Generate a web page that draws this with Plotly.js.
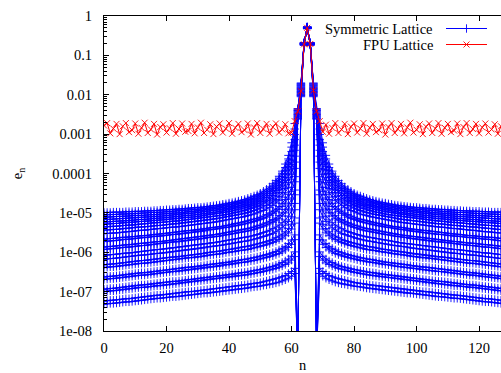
<!DOCTYPE html>
<html><head><meta charset="utf-8">
<script src="https://cdn.plot.ly/plotly-3.0.1.min.js"></script>
<style>html,body{margin:0;padding:0;overflow:hidden;background:#fff}</style>
</head><body><div id="chart" style="width:501px;height:373px"></div>
<script>
// lattice site index n
const nSites = Array.from({length:128}, (_, i) => i);

// log10(e_n) for the symmetric lattice, one array per curve
const sym01 = [-4.99,-4.99,-4.99,-4.98,-4.98,-4.98,-4.98,-4.97,-4.97,-4.97,-4.96,-4.96,-4.96,-4.95,-4.95,-4.95,-4.94,-4.94,-4.93,-4.93,-4.92,-4.92,-4.91,-4.91,-4.90,-4.90,-4.89,-4.88,-4.88,-4.87,-4.86,-4.86,-4.85,-4.84,-4.83,-4.82,-4.81,-4.80,-4.78,-4.77,-4.75,-4.74,-4.72,-4.70,-4.68,-4.66,-4.63,-4.60,-4.57,-4.54,-4.50,-4.45,-4.40,-4.34,-4.26,-4.18,-4.07,-3.94,-3.76,-3.54,-3.22,-2.73,-2.35,-1.70,-0.68,-0.28,-0.68,-1.70,-2.35,-2.73,-3.22,-3.54,-3.76,-3.94,-4.07,-4.18,-4.26,-4.34,-4.40,-4.45,-4.50,-4.54,-4.57,-4.60,-4.63,-4.66,-4.68,-4.70,-4.72,-4.74,-4.75,-4.77,-4.78,-4.80,-4.81,-4.82,-4.83,-4.84,-4.85,-4.86,-4.86,-4.87,-4.88,-4.88,-4.89,-4.90,-4.90,-4.91,-4.91,-4.92,-4.92,-4.93,-4.93,-4.94,-4.94,-4.95,-4.95,-4.95,-4.96,-4.96,-4.96,-4.97,-4.97,-4.97,-4.98,-4.98,-4.98,-4.98];
const sym02 = [-5.05,-5.05,-5.04,-5.04,-5.04,-5.03,-5.03,-5.03,-5.02,-5.02,-5.02,-5.01,-5.01,-5.00,-5.00,-4.99,-4.99,-4.99,-4.98,-4.98,-4.97,-4.97,-4.96,-4.95,-4.95,-4.94,-4.93,-4.93,-4.92,-4.91,-4.91,-4.90,-4.89,-4.88,-4.87,-4.86,-4.85,-4.84,-4.82,-4.81,-4.79,-4.78,-4.76,-4.74,-4.72,-4.70,-4.67,-4.65,-4.62,-4.58,-4.54,-4.50,-4.45,-4.39,-4.32,-4.24,-4.14,-4.01,-3.85,-3.63,-3.33,-2.87,-2.37,-1.72,-0.68,-0.28,-0.68,-1.72,-2.37,-2.87,-3.33,-3.63,-3.85,-4.01,-4.14,-4.24,-4.32,-4.39,-4.45,-4.50,-4.54,-4.58,-4.62,-4.65,-4.67,-4.70,-4.72,-4.74,-4.76,-4.78,-4.79,-4.81,-4.82,-4.84,-4.85,-4.86,-4.87,-4.88,-4.89,-4.90,-4.91,-4.91,-4.92,-4.93,-4.93,-4.94,-4.95,-4.95,-4.96,-4.97,-4.97,-4.98,-4.98,-4.99,-4.99,-4.99,-5.00,-5.00,-5.01,-5.01,-5.02,-5.02,-5.02,-5.03,-5.03,-5.03,-5.04,-5.04];
const sym03 = [-5.11,-5.11,-5.10,-5.10,-5.09,-5.09,-5.09,-5.08,-5.08,-5.07,-5.07,-5.07,-5.06,-5.06,-5.05,-5.05,-5.04,-5.04,-5.03,-5.03,-5.02,-5.01,-5.01,-5.00,-5.00,-4.99,-4.98,-4.97,-4.97,-4.96,-4.95,-4.94,-4.93,-4.92,-4.91,-4.90,-4.89,-4.88,-4.86,-4.85,-4.84,-4.82,-4.80,-4.78,-4.76,-4.74,-4.72,-4.69,-4.66,-4.63,-4.59,-4.55,-4.50,-4.45,-4.38,-4.30,-4.20,-4.08,-3.93,-3.73,-3.44,-3.01,-2.39,-1.73,-0.68,-0.28,-0.68,-1.73,-2.39,-3.01,-3.44,-3.73,-3.93,-4.08,-4.20,-4.30,-4.38,-4.45,-4.50,-4.55,-4.59,-4.63,-4.66,-4.69,-4.72,-4.74,-4.76,-4.78,-4.80,-4.82,-4.84,-4.85,-4.86,-4.88,-4.89,-4.90,-4.91,-4.92,-4.93,-4.94,-4.95,-4.96,-4.97,-4.97,-4.98,-4.99,-5.00,-5.00,-5.01,-5.01,-5.02,-5.03,-5.03,-5.04,-5.04,-5.05,-5.05,-5.06,-5.06,-5.07,-5.07,-5.07,-5.08,-5.08,-5.09,-5.09,-5.09,-5.10];
const sym04 = [-5.17,-5.17,-5.16,-5.16,-5.15,-5.15,-5.14,-5.14,-5.13,-5.13,-5.12,-5.12,-5.11,-5.11,-5.10,-5.10,-5.09,-5.09,-5.08,-5.08,-5.07,-5.06,-5.05,-5.05,-5.04,-5.03,-5.02,-5.01,-5.01,-5.00,-4.99,-4.98,-4.97,-4.96,-4.95,-4.94,-4.93,-4.92,-4.91,-4.89,-4.88,-4.86,-4.84,-4.83,-4.81,-4.79,-4.77,-4.74,-4.71,-4.68,-4.64,-4.60,-4.55,-4.50,-4.43,-4.36,-4.27,-4.16,-4.01,-3.82,-3.55,-3.14,-2.40,-1.75,-0.69,-0.28,-0.69,-1.75,-2.40,-3.14,-3.55,-3.82,-4.01,-4.16,-4.27,-4.36,-4.43,-4.50,-4.55,-4.60,-4.64,-4.68,-4.71,-4.74,-4.77,-4.79,-4.81,-4.83,-4.84,-4.86,-4.88,-4.89,-4.91,-4.92,-4.93,-4.94,-4.95,-4.96,-4.97,-4.98,-4.99,-5.00,-5.01,-5.01,-5.02,-5.03,-5.04,-5.05,-5.05,-5.06,-5.07,-5.08,-5.08,-5.09,-5.09,-5.10,-5.10,-5.11,-5.11,-5.12,-5.12,-5.13,-5.13,-5.14,-5.14,-5.15,-5.15,-5.16];
const sym05 = [-5.23,-5.23,-5.22,-5.22,-5.21,-5.21,-5.20,-5.20,-5.19,-5.19,-5.18,-5.17,-5.17,-5.16,-5.16,-5.15,-5.14,-5.14,-5.13,-5.13,-5.12,-5.11,-5.10,-5.10,-5.09,-5.08,-5.07,-5.06,-5.06,-5.05,-5.04,-5.03,-5.02,-5.01,-5.00,-4.99,-4.98,-4.96,-4.95,-4.93,-4.92,-4.90,-4.88,-4.87,-4.85,-4.83,-4.81,-4.79,-4.76,-4.73,-4.69,-4.65,-4.61,-4.56,-4.50,-4.43,-4.34,-4.23,-4.10,-3.91,-3.66,-3.28,-2.42,-1.76,-0.69,-0.29,-0.69,-1.76,-2.42,-3.28,-3.66,-3.91,-4.10,-4.23,-4.34,-4.43,-4.50,-4.56,-4.61,-4.65,-4.69,-4.73,-4.76,-4.79,-4.81,-4.83,-4.85,-4.87,-4.88,-4.90,-4.92,-4.93,-4.95,-4.96,-4.98,-4.99,-5.00,-5.01,-5.02,-5.03,-5.04,-5.05,-5.06,-5.06,-5.07,-5.08,-5.09,-5.10,-5.10,-5.11,-5.12,-5.13,-5.13,-5.14,-5.14,-5.15,-5.16,-5.16,-5.17,-5.17,-5.18,-5.19,-5.19,-5.20,-5.20,-5.21,-5.21,-5.22];
const sym06 = [-5.29,-5.28,-5.28,-5.27,-5.27,-5.26,-5.25,-5.25,-5.24,-5.24,-5.23,-5.22,-5.22,-5.21,-5.21,-5.20,-5.19,-5.19,-5.18,-5.18,-5.17,-5.16,-5.15,-5.15,-5.14,-5.13,-5.12,-5.11,-5.11,-5.10,-5.09,-5.08,-5.07,-5.05,-5.04,-5.03,-5.02,-5.01,-4.99,-4.98,-4.97,-4.95,-4.93,-4.92,-4.90,-4.88,-4.86,-4.83,-4.81,-4.78,-4.75,-4.71,-4.67,-4.62,-4.56,-4.49,-4.41,-4.31,-4.18,-4.01,-3.77,-3.41,-2.44,-1.78,-0.69,-0.29,-0.69,-1.78,-2.44,-3.41,-3.77,-4.01,-4.18,-4.31,-4.41,-4.49,-4.56,-4.62,-4.67,-4.71,-4.75,-4.78,-4.81,-4.83,-4.86,-4.88,-4.90,-4.92,-4.93,-4.95,-4.97,-4.98,-4.99,-5.01,-5.02,-5.03,-5.04,-5.05,-5.07,-5.08,-5.09,-5.10,-5.11,-5.11,-5.12,-5.13,-5.14,-5.15,-5.15,-5.16,-5.17,-5.18,-5.18,-5.19,-5.19,-5.20,-5.21,-5.21,-5.22,-5.22,-5.23,-5.24,-5.24,-5.25,-5.25,-5.26,-5.27,-5.27];
const sym07 = [-5.36,-5.35,-5.35,-5.34,-5.34,-5.33,-5.32,-5.32,-5.31,-5.31,-5.30,-5.29,-5.28,-5.28,-5.27,-5.26,-5.25,-5.25,-5.24,-5.24,-5.23,-5.22,-5.21,-5.21,-5.20,-5.19,-5.18,-5.17,-5.16,-5.15,-5.14,-5.13,-5.12,-5.11,-5.10,-5.09,-5.08,-5.07,-5.06,-5.04,-5.03,-5.01,-4.99,-4.98,-4.96,-4.94,-4.92,-4.89,-4.87,-4.84,-4.81,-4.77,-4.73,-4.69,-4.63,-4.57,-4.49,-4.39,-4.27,-4.11,-3.89,-3.56,-2.46,-1.80,-0.69,-0.29,-0.69,-1.80,-2.46,-3.56,-3.89,-4.11,-4.27,-4.39,-4.49,-4.57,-4.63,-4.69,-4.73,-4.77,-4.81,-4.84,-4.87,-4.89,-4.92,-4.94,-4.96,-4.98,-4.99,-5.01,-5.03,-5.04,-5.06,-5.07,-5.08,-5.09,-5.10,-5.11,-5.12,-5.13,-5.14,-5.15,-5.16,-5.17,-5.18,-5.19,-5.20,-5.21,-5.21,-5.22,-5.23,-5.24,-5.24,-5.25,-5.25,-5.26,-5.27,-5.28,-5.28,-5.29,-5.30,-5.31,-5.31,-5.32,-5.32,-5.33,-5.34,-5.34];
const sym08 = [-5.44,-5.43,-5.43,-5.42,-5.42,-5.41,-5.40,-5.39,-5.39,-5.38,-5.37,-5.36,-5.36,-5.35,-5.35,-5.34,-5.33,-5.32,-5.32,-5.31,-5.30,-5.29,-5.28,-5.28,-5.27,-5.26,-5.25,-5.24,-5.23,-5.22,-5.21,-5.20,-5.19,-5.18,-5.17,-5.16,-5.15,-5.13,-5.12,-5.10,-5.09,-5.07,-5.06,-5.04,-5.03,-5.01,-4.99,-4.97,-4.94,-4.91,-4.88,-4.85,-4.81,-4.77,-4.72,-4.66,-4.58,-4.49,-4.38,-4.23,-4.02,-3.71,-2.48,-1.81,-0.70,-0.29,-0.70,-1.81,-2.48,-3.71,-4.02,-4.23,-4.38,-4.49,-4.58,-4.66,-4.72,-4.77,-4.81,-4.85,-4.88,-4.91,-4.94,-4.97,-4.99,-5.01,-5.03,-5.04,-5.06,-5.07,-5.09,-5.10,-5.12,-5.13,-5.15,-5.16,-5.17,-5.18,-5.19,-5.20,-5.21,-5.22,-5.23,-5.24,-5.25,-5.26,-5.27,-5.28,-5.28,-5.29,-5.30,-5.31,-5.32,-5.32,-5.33,-5.34,-5.35,-5.35,-5.36,-5.36,-5.37,-5.38,-5.39,-5.39,-5.40,-5.41,-5.42,-5.42];
const sym09 = [-5.53,-5.52,-5.52,-5.51,-5.51,-5.50,-5.49,-5.48,-5.48,-5.47,-5.46,-5.45,-5.44,-5.44,-5.43,-5.42,-5.41,-5.40,-5.40,-5.39,-5.38,-5.37,-5.36,-5.36,-5.35,-5.34,-5.33,-5.32,-5.31,-5.30,-5.29,-5.28,-5.27,-5.26,-5.25,-5.24,-5.23,-5.21,-5.20,-5.18,-5.17,-5.15,-5.14,-5.12,-5.11,-5.09,-5.07,-5.05,-5.03,-5.00,-4.97,-4.94,-4.90,-4.86,-4.81,-4.75,-4.69,-4.60,-4.49,-4.35,-4.16,-3.87,-2.50,-1.83,-0.70,-0.29,-0.70,-1.83,-2.50,-3.87,-4.16,-4.35,-4.49,-4.60,-4.69,-4.75,-4.81,-4.86,-4.90,-4.94,-4.97,-5.00,-5.03,-5.05,-5.07,-5.09,-5.11,-5.12,-5.14,-5.15,-5.17,-5.18,-5.20,-5.21,-5.23,-5.24,-5.25,-5.26,-5.27,-5.28,-5.29,-5.30,-5.31,-5.32,-5.33,-5.34,-5.35,-5.36,-5.36,-5.37,-5.38,-5.39,-5.40,-5.40,-5.41,-5.42,-5.43,-5.44,-5.44,-5.45,-5.46,-5.47,-5.48,-5.48,-5.49,-5.50,-5.51,-5.51];
const sym10 = [-5.67,-5.66,-5.65,-5.65,-5.64,-5.63,-5.62,-5.62,-5.61,-5.61,-5.60,-5.59,-5.58,-5.58,-5.57,-5.56,-5.55,-5.54,-5.54,-5.53,-5.52,-5.51,-5.50,-5.49,-5.48,-5.47,-5.46,-5.45,-5.45,-5.44,-5.43,-5.42,-5.41,-5.40,-5.38,-5.37,-5.36,-5.35,-5.34,-5.32,-5.31,-5.29,-5.27,-5.26,-5.24,-5.22,-5.20,-5.18,-5.16,-5.14,-5.11,-5.08,-5.04,-5.00,-4.95,-4.90,-4.84,-4.76,-4.66,-4.53,-4.35,-4.08,-2.51,-1.84,-0.70,-0.30,-0.70,-1.84,-2.51,-4.08,-4.35,-4.53,-4.66,-4.76,-4.84,-4.90,-4.95,-5.00,-5.04,-5.08,-5.11,-5.14,-5.16,-5.18,-5.20,-5.22,-5.24,-5.26,-5.27,-5.29,-5.31,-5.32,-5.34,-5.35,-5.36,-5.37,-5.38,-5.40,-5.41,-5.42,-5.43,-5.44,-5.45,-5.45,-5.46,-5.47,-5.48,-5.49,-5.50,-5.51,-5.52,-5.53,-5.54,-5.54,-5.55,-5.56,-5.57,-5.58,-5.58,-5.59,-5.60,-5.61,-5.61,-5.62,-5.62,-5.63,-5.64,-5.65];
const sym11 = [-5.73,-5.72,-5.71,-5.71,-5.70,-5.69,-5.68,-5.67,-5.67,-5.66,-5.65,-5.64,-5.63,-5.63,-5.62,-5.61,-5.60,-5.59,-5.59,-5.58,-5.57,-5.56,-5.55,-5.55,-5.54,-5.53,-5.52,-5.51,-5.50,-5.49,-5.48,-5.47,-5.46,-5.44,-5.43,-5.42,-5.41,-5.40,-5.38,-5.37,-5.36,-5.34,-5.33,-5.31,-5.30,-5.28,-5.26,-5.24,-5.22,-5.19,-5.17,-5.14,-5.11,-5.07,-5.02,-4.97,-4.91,-4.84,-4.75,-4.62,-4.46,-4.21,-2.53,-1.86,-0.70,-0.30,-0.70,-1.86,-2.53,-4.21,-4.46,-4.62,-4.75,-4.84,-4.91,-4.97,-5.02,-5.07,-5.11,-5.14,-5.17,-5.19,-5.22,-5.24,-5.26,-5.28,-5.30,-5.31,-5.33,-5.34,-5.36,-5.37,-5.38,-5.40,-5.41,-5.42,-5.43,-5.44,-5.46,-5.47,-5.48,-5.49,-5.50,-5.51,-5.52,-5.53,-5.54,-5.55,-5.55,-5.56,-5.57,-5.58,-5.59,-5.59,-5.60,-5.61,-5.62,-5.63,-5.63,-5.64,-5.65,-5.66,-5.67,-5.67,-5.68,-5.69,-5.70,-5.71];
const sym12 = [-5.87,-5.86,-5.85,-5.85,-5.84,-5.83,-5.82,-5.81,-5.81,-5.80,-5.79,-5.78,-5.77,-5.77,-5.76,-5.75,-5.74,-5.73,-5.73,-5.72,-5.71,-5.70,-5.69,-5.68,-5.67,-5.66,-5.65,-5.64,-5.63,-5.62,-5.61,-5.60,-5.59,-5.58,-5.57,-5.56,-5.55,-5.53,-5.52,-5.50,-5.49,-5.47,-5.46,-5.44,-5.43,-5.41,-5.40,-5.38,-5.36,-5.33,-5.31,-5.28,-5.25,-5.21,-5.17,-5.13,-5.07,-5.00,-4.91,-4.80,-4.65,-4.42,-2.55,-1.87,-0.71,-0.30,-0.71,-1.87,-2.55,-4.42,-4.65,-4.80,-4.91,-5.00,-5.07,-5.13,-5.17,-5.21,-5.25,-5.28,-5.31,-5.33,-5.36,-5.38,-5.40,-5.41,-5.43,-5.44,-5.46,-5.47,-5.49,-5.50,-5.52,-5.53,-5.55,-5.56,-5.57,-5.58,-5.59,-5.60,-5.61,-5.62,-5.63,-5.64,-5.65,-5.66,-5.67,-5.68,-5.69,-5.70,-5.71,-5.72,-5.73,-5.73,-5.74,-5.75,-5.76,-5.77,-5.77,-5.78,-5.79,-5.80,-5.81,-5.81,-5.82,-5.83,-5.84,-5.85];
const sym13 = [-5.93,-5.92,-5.91,-5.91,-5.90,-5.89,-5.88,-5.87,-5.87,-5.86,-5.85,-5.84,-5.83,-5.83,-5.82,-5.81,-5.80,-5.79,-5.78,-5.77,-5.76,-5.75,-5.74,-5.74,-5.73,-5.72,-5.71,-5.70,-5.69,-5.68,-5.67,-5.66,-5.65,-5.63,-5.62,-5.61,-5.60,-5.59,-5.57,-5.56,-5.55,-5.53,-5.52,-5.50,-5.49,-5.47,-5.46,-5.44,-5.42,-5.39,-5.37,-5.34,-5.31,-5.28,-5.24,-5.20,-5.15,-5.08,-5.00,-4.90,-4.76,-4.54,-2.57,-1.89,-0.71,-0.30,-0.71,-1.89,-2.57,-4.54,-4.76,-4.90,-5.00,-5.08,-5.15,-5.20,-5.24,-5.28,-5.31,-5.34,-5.37,-5.39,-5.42,-5.44,-5.46,-5.47,-5.49,-5.50,-5.52,-5.53,-5.55,-5.56,-5.57,-5.59,-5.60,-5.61,-5.62,-5.63,-5.65,-5.66,-5.67,-5.68,-5.69,-5.70,-5.71,-5.72,-5.73,-5.74,-5.74,-5.75,-5.76,-5.77,-5.78,-5.79,-5.80,-5.81,-5.82,-5.83,-5.83,-5.84,-5.85,-5.86,-5.87,-5.87,-5.88,-5.89,-5.90,-5.91];
const sym14 = [-6.08,-6.07,-6.06,-6.06,-6.05,-6.04,-6.03,-6.02,-6.02,-6.01,-6.00,-5.99,-5.98,-5.97,-5.96,-5.95,-5.94,-5.93,-5.93,-5.92,-5.91,-5.90,-5.89,-5.88,-5.87,-5.86,-5.85,-5.84,-5.83,-5.82,-5.81,-5.80,-5.79,-5.78,-5.77,-5.76,-5.75,-5.73,-5.72,-5.70,-5.69,-5.68,-5.66,-5.65,-5.63,-5.62,-5.61,-5.59,-5.57,-5.55,-5.53,-5.50,-5.47,-5.44,-5.40,-5.36,-5.31,-5.25,-5.18,-5.08,-4.95,-4.76,-2.59,-1.91,-0.71,-0.30,-0.71,-1.91,-2.59,-4.76,-4.95,-5.08,-5.18,-5.25,-5.31,-5.36,-5.40,-5.44,-5.47,-5.50,-5.53,-5.55,-5.57,-5.59,-5.61,-5.62,-5.63,-5.65,-5.66,-5.68,-5.69,-5.70,-5.72,-5.73,-5.75,-5.76,-5.77,-5.78,-5.79,-5.80,-5.81,-5.82,-5.83,-5.84,-5.85,-5.86,-5.87,-5.88,-5.89,-5.90,-5.91,-5.92,-5.93,-5.93,-5.94,-5.95,-5.96,-5.97,-5.98,-5.99,-6.00,-6.01,-6.02,-6.02,-6.03,-6.04,-6.05,-6.06];
const sym15 = [-6.18,-6.17,-6.16,-6.16,-6.15,-6.14,-6.13,-6.12,-6.11,-6.10,-6.09,-6.08,-6.07,-6.07,-6.06,-6.05,-6.04,-6.03,-6.03,-6.02,-6.01,-6.00,-5.99,-5.98,-5.97,-5.96,-5.95,-5.94,-5.93,-5.92,-5.91,-5.90,-5.89,-5.87,-5.86,-5.85,-5.84,-5.83,-5.82,-5.80,-5.79,-5.78,-5.76,-5.75,-5.73,-5.72,-5.71,-5.69,-5.67,-5.65,-5.63,-5.60,-5.58,-5.55,-5.52,-5.48,-5.43,-5.38,-5.31,-5.22,-5.10,-4.92,-2.60,-1.92,-0.72,-0.31,-0.72,-1.92,-2.60,-4.92,-5.10,-5.22,-5.31,-5.38,-5.43,-5.48,-5.52,-5.55,-5.58,-5.60,-5.63,-5.65,-5.67,-5.69,-5.71,-5.72,-5.73,-5.75,-5.76,-5.78,-5.79,-5.80,-5.82,-5.83,-5.84,-5.85,-5.86,-5.87,-5.89,-5.90,-5.91,-5.92,-5.93,-5.94,-5.95,-5.96,-5.97,-5.98,-5.99,-6.00,-6.01,-6.02,-6.03,-6.03,-6.04,-6.05,-6.06,-6.07,-6.07,-6.08,-6.09,-6.10,-6.11,-6.12,-6.13,-6.14,-6.15,-6.16];
const sym16 = [-6.32,-6.31,-6.30,-6.30,-6.29,-6.28,-6.27,-6.26,-6.25,-6.24,-6.23,-6.22,-6.21,-6.21,-6.20,-6.19,-6.18,-6.17,-6.16,-6.15,-6.14,-6.13,-6.12,-6.12,-6.11,-6.10,-6.09,-6.08,-6.07,-6.06,-6.05,-6.04,-6.03,-6.01,-6.00,-5.99,-5.98,-5.97,-5.96,-5.94,-5.93,-5.92,-5.90,-5.89,-5.87,-5.86,-5.85,-5.83,-5.81,-5.79,-5.77,-5.75,-5.73,-5.70,-5.67,-5.63,-5.59,-5.54,-5.48,-5.40,-5.29,-5.13,-2.62,-1.94,-0.72,-0.31,-0.72,-1.94,-2.62,-5.13,-5.29,-5.40,-5.48,-5.54,-5.59,-5.63,-5.67,-5.70,-5.73,-5.75,-5.77,-5.79,-5.81,-5.83,-5.85,-5.86,-5.87,-5.89,-5.90,-5.92,-5.93,-5.94,-5.96,-5.97,-5.98,-5.99,-6.00,-6.01,-6.03,-6.04,-6.05,-6.06,-6.07,-6.08,-6.09,-6.10,-6.11,-6.12,-6.12,-6.13,-6.14,-6.15,-6.16,-6.17,-6.18,-6.19,-6.20,-6.21,-6.21,-6.22,-6.23,-6.24,-6.25,-6.26,-6.27,-6.28,-6.29,-6.30];
const sym17 = [-6.39,-6.38,-6.37,-6.37,-6.36,-6.35,-6.34,-6.33,-6.32,-6.31,-6.30,-6.29,-6.28,-6.28,-6.27,-6.26,-6.25,-6.24,-6.23,-6.22,-6.21,-6.20,-6.19,-6.18,-6.17,-6.16,-6.15,-6.14,-6.14,-6.13,-6.12,-6.11,-6.10,-6.08,-6.07,-6.06,-6.05,-6.04,-6.03,-6.01,-6.00,-5.99,-5.98,-5.96,-5.95,-5.94,-5.93,-5.91,-5.89,-5.87,-5.85,-5.83,-5.81,-5.78,-5.75,-5.72,-5.68,-5.64,-5.58,-5.51,-5.41,-5.26,-8.60,-1.95,-0.72,-0.31,-0.72,-1.95,-8.60,-5.26,-5.41,-5.51,-5.58,-5.64,-5.68,-5.72,-5.75,-5.78,-5.81,-5.83,-5.85,-5.87,-5.89,-5.91,-5.93,-5.94,-5.95,-5.96,-5.98,-5.99,-6.00,-6.01,-6.03,-6.04,-6.05,-6.06,-6.07,-6.08,-6.10,-6.11,-6.12,-6.13,-6.14,-6.14,-6.15,-6.16,-6.17,-6.18,-6.19,-6.20,-6.21,-6.22,-6.23,-6.24,-6.25,-6.26,-6.27,-6.28,-6.28,-6.29,-6.30,-6.31,-6.32,-6.33,-6.34,-6.35,-6.36,-6.37];
const sym18 = [-6.63,-6.62,-6.61,-6.61,-6.60,-6.59,-6.58,-6.57,-6.56,-6.55,-6.54,-6.53,-6.52,-6.52,-6.51,-6.50,-6.49,-6.48,-6.47,-6.46,-6.45,-6.44,-6.43,-6.42,-6.41,-6.40,-6.39,-6.38,-6.38,-6.37,-6.36,-6.35,-6.34,-6.32,-6.31,-6.30,-6.29,-6.28,-6.27,-6.26,-6.25,-6.24,-6.22,-6.21,-6.19,-6.18,-6.17,-6.15,-6.14,-6.12,-6.10,-6.08,-6.06,-6.04,-6.01,-5.98,-5.94,-5.90,-5.85,-5.78,-5.69,-5.56,-8.60,-1.97,-0.72,-0.31,-0.72,-1.97,-8.60,-5.56,-5.69,-5.78,-5.85,-5.90,-5.94,-5.98,-6.01,-6.04,-6.06,-6.08,-6.10,-6.12,-6.14,-6.15,-6.17,-6.18,-6.19,-6.21,-6.22,-6.24,-6.25,-6.26,-6.27,-6.28,-6.29,-6.30,-6.31,-6.32,-6.34,-6.35,-6.36,-6.37,-6.38,-6.38,-6.39,-6.40,-6.41,-6.42,-6.43,-6.44,-6.45,-6.46,-6.47,-6.48,-6.49,-6.50,-6.51,-6.52,-6.52,-6.53,-6.54,-6.55,-6.56,-6.57,-6.58,-6.59,-6.60,-6.61];
const sym19 = [-6.69,-6.68,-6.67,-6.67,-6.66,-6.65,-6.64,-6.63,-6.62,-6.61,-6.60,-6.59,-6.58,-6.58,-6.57,-6.56,-6.55,-6.54,-6.53,-6.52,-6.51,-6.50,-6.49,-6.49,-6.48,-6.47,-6.46,-6.45,-6.44,-6.43,-6.42,-6.41,-6.40,-6.39,-6.38,-6.37,-6.36,-6.35,-6.33,-6.32,-6.31,-6.30,-6.29,-6.27,-6.26,-6.25,-6.24,-6.22,-6.21,-6.19,-6.17,-6.15,-6.13,-6.11,-6.09,-6.06,-6.03,-5.99,-5.94,-5.88,-5.80,-5.68,-8.60,-1.99,-0.73,-0.31,-0.73,-1.99,-8.60,-5.68,-5.80,-5.88,-5.94,-5.99,-6.03,-6.06,-6.09,-6.11,-6.13,-6.15,-6.17,-6.19,-6.21,-6.22,-6.24,-6.25,-6.26,-6.27,-6.29,-6.30,-6.31,-6.32,-6.33,-6.35,-6.36,-6.37,-6.38,-6.39,-6.40,-6.41,-6.42,-6.43,-6.44,-6.45,-6.46,-6.47,-6.48,-6.49,-6.49,-6.50,-6.51,-6.52,-6.53,-6.54,-6.55,-6.56,-6.57,-6.58,-6.58,-6.59,-6.60,-6.61,-6.62,-6.63,-6.64,-6.65,-6.66,-6.67];
const sym20 = [-6.94,-6.93,-6.92,-6.92,-6.91,-6.90,-6.89,-6.88,-6.87,-6.86,-6.85,-6.84,-6.83,-6.83,-6.82,-6.81,-6.80,-6.79,-6.78,-6.77,-6.76,-6.75,-6.74,-6.74,-6.73,-6.72,-6.71,-6.70,-6.69,-6.68,-6.67,-6.66,-6.65,-6.64,-6.63,-6.62,-6.61,-6.60,-6.59,-6.58,-6.57,-6.56,-6.55,-6.53,-6.52,-6.51,-6.50,-6.48,-6.47,-6.45,-6.44,-6.42,-6.40,-6.38,-6.36,-6.33,-6.30,-6.26,-6.22,-6.17,-6.10,-5.99,-8.60,-2.00,-0.73,-0.32,-0.73,-2.00,-8.60,-5.99,-6.10,-6.17,-6.22,-6.26,-6.30,-6.33,-6.36,-6.38,-6.40,-6.42,-6.44,-6.45,-6.47,-6.48,-6.50,-6.51,-6.52,-6.53,-6.55,-6.56,-6.57,-6.58,-6.59,-6.60,-6.61,-6.62,-6.63,-6.64,-6.65,-6.66,-6.67,-6.68,-6.69,-6.70,-6.71,-6.72,-6.73,-6.74,-6.74,-6.75,-6.76,-6.77,-6.78,-6.79,-6.80,-6.81,-6.82,-6.83,-6.83,-6.84,-6.85,-6.86,-6.87,-6.88,-6.89,-6.90,-6.91,-6.92];
const sym21 = [-7.00,-6.99,-6.98,-6.98,-6.97,-6.96,-6.95,-6.94,-6.93,-6.92,-6.91,-6.90,-6.89,-6.89,-6.88,-6.87,-6.86,-6.85,-6.85,-6.84,-6.83,-6.82,-6.81,-6.80,-6.79,-6.78,-6.77,-6.76,-6.75,-6.74,-6.73,-6.72,-6.71,-6.70,-6.69,-6.68,-6.67,-6.66,-6.65,-6.64,-6.63,-6.62,-6.61,-6.60,-6.59,-6.58,-6.57,-6.55,-6.54,-6.52,-6.51,-6.49,-6.47,-6.45,-6.43,-6.41,-6.38,-6.35,-6.31,-6.27,-6.20,-6.11,-8.60,-2.02,-0.73,-0.32,-0.73,-2.02,-8.60,-6.11,-6.20,-6.27,-6.31,-6.35,-6.38,-6.41,-6.43,-6.45,-6.47,-6.49,-6.51,-6.52,-6.54,-6.55,-6.57,-6.58,-6.59,-6.60,-6.61,-6.62,-6.63,-6.64,-6.65,-6.66,-6.67,-6.68,-6.69,-6.70,-6.71,-6.72,-6.73,-6.74,-6.75,-6.76,-6.77,-6.78,-6.79,-6.80,-6.81,-6.82,-6.83,-6.84,-6.85,-6.85,-6.86,-6.87,-6.88,-6.89,-6.89,-6.90,-6.91,-6.92,-6.93,-6.94,-6.95,-6.96,-6.97,-6.98];
const sym22 = [-7.24,-7.23,-7.22,-7.22,-7.21,-7.20,-7.19,-7.18,-7.18,-7.17,-7.16,-7.15,-7.14,-7.13,-7.12,-7.11,-7.10,-7.09,-7.09,-7.08,-7.07,-7.06,-7.05,-7.04,-7.03,-7.02,-7.01,-7.00,-7.00,-6.99,-6.98,-6.97,-6.96,-6.95,-6.94,-6.93,-6.92,-6.91,-6.90,-6.89,-6.88,-6.87,-6.86,-6.85,-6.84,-6.83,-6.82,-6.80,-6.79,-6.78,-6.77,-6.75,-6.73,-6.71,-6.69,-6.67,-6.65,-6.62,-6.59,-6.54,-6.49,-6.41,-8.60,-2.03,-0.74,-0.32,-0.74,-2.03,-8.60,-6.41,-6.49,-6.54,-6.59,-6.62,-6.65,-6.67,-6.69,-6.71,-6.73,-6.75,-6.77,-6.78,-6.79,-6.80,-6.82,-6.83,-6.84,-6.85,-6.86,-6.87,-6.88,-6.89,-6.90,-6.91,-6.92,-6.93,-6.94,-6.95,-6.96,-6.97,-6.98,-6.99,-7.00,-7.00,-7.01,-7.02,-7.03,-7.04,-7.05,-7.06,-7.07,-7.08,-7.09,-7.09,-7.10,-7.11,-7.12,-7.13,-7.14,-7.15,-7.16,-7.17,-7.18,-7.18,-7.19,-7.20,-7.21,-7.22];
const sym23 = [-7.32,-7.31,-7.30,-7.30,-7.29,-7.28,-7.27,-7.26,-7.26,-7.25,-7.24,-7.23,-7.22,-7.21,-7.20,-7.19,-7.18,-7.17,-7.17,-7.16,-7.15,-7.14,-7.13,-7.13,-7.12,-7.11,-7.10,-7.09,-7.08,-7.07,-7.06,-7.05,-7.04,-7.04,-7.03,-7.02,-7.01,-7.00,-6.99,-6.98,-6.97,-6.96,-6.95,-6.94,-6.93,-6.92,-6.91,-6.89,-6.88,-6.87,-6.86,-6.84,-6.83,-6.81,-6.80,-6.78,-6.76,-6.73,-6.70,-6.66,-6.61,-6.54,-8.60,-2.05,-0.74,-0.32,-0.74,-2.05,-8.60,-6.54,-6.61,-6.66,-6.70,-6.73,-6.76,-6.78,-6.80,-6.81,-6.83,-6.84,-6.86,-6.87,-6.88,-6.89,-6.91,-6.92,-6.93,-6.94,-6.95,-6.96,-6.97,-6.98,-6.99,-7.00,-7.01,-7.02,-7.03,-7.04,-7.04,-7.05,-7.06,-7.07,-7.08,-7.09,-7.10,-7.11,-7.12,-7.13,-7.13,-7.14,-7.15,-7.16,-7.17,-7.17,-7.18,-7.19,-7.20,-7.21,-7.22,-7.23,-7.24,-7.25,-7.26,-7.26,-7.27,-7.28,-7.29,-7.30];

// log10(e_n) for the FPU lattice
const fpuLog = [-2.78,-2.72,-2.98,-2.86,-2.74,-3.00,-2.80,-2.72,-2.95,-2.90,
-2.73,-2.99,-2.84,-2.71,-2.97,-2.88,-2.74,-3.01,-2.82,-2.75,
-2.96,-2.85,-2.72,-2.99,-2.87,-2.73,-2.94,-2.92,-2.74,-2.98,
-2.83,-2.71,-2.97,-2.89,-2.75,-3.00,-2.81,-2.73,-2.96,-2.86,
-2.72,-2.99,-2.84,-2.74,-2.95,-2.90,-2.73,-3.01,-2.83,-2.72,
-2.97,-2.87,-2.74,-2.99,-2.82,-2.73,-2.96,-2.88,-2.75,-2.98,
-2.96,-2.67,-2.42,-1.91,-0.72,-0.30,-0.71,-1.89,-2.42,-2.67,
-2.94,-2.76,-2.99,-2.84,-2.72,-2.97,-2.88,-2.74,-3.00,-2.81,
-2.73,-2.96,-2.86,-2.72,-2.99,-2.84,-2.74,-2.95,-2.90,-2.73,
-3.01,-2.82,-2.72,-2.97,-2.87,-2.74,-2.98,-2.83,-2.71,-2.96,
-2.89,-2.75,-3.00,-2.81,-2.73,-2.97,-2.86,-2.72,-2.99,-2.84,
-2.74,-2.95,-2.91,-2.73,-3.00,-2.82,-2.72,-2.97,-2.87,-2.74,
-2.98,-2.83,-2.73,-2.96,-2.88,-2.75,-2.99,-2.80];

const seriesNames = ['Symmetric Lattice', 'FPU Lattice'];
const seriesColors = ['#0000ff', '#ff0000'];
const seriesSymbols = ['cross-thin-open', 'x-thin-open'];

const xTickVals = [0, 20, 40, 60, 80, 100, 120];
const xTickText = ['0', '20', '40', '60', '80', '100', '120'];
const yTickVals = [1, 0.1, 0.01, 0.001, 0.0001, 1e-5, 1e-6, 1e-7, 1e-8];
const yTickText = ['1', '0.1', '0.01', '0.001', '0.0001', '1e-05', '1e-06', '1e-07', '1e-08'];

const symCurves = [sym01,sym02,sym03,sym04,sym05,sym06,sym07,sym08,sym09,sym10,sym11,sym12,
  sym13,sym14,sym15,sym16,sym17,sym18,sym19,sym20,sym21,sym22,sym23];

const symX = [], symY = [];
symCurves.forEach(c => {
  c.forEach((v, i) => { symX.push(nSites[i]); symY.push(Math.pow(10, v)); });
  symX.push(null); symY.push(null);
});
const fpuY = fpuLog.map(v => Math.pow(10, v));

const yMinorVals = [];
for (let e = -8; e < 0; e++) for (let m = 2; m <= 9; m++) yMinorVals.push(m * Math.pow(10, e));

const font = {family: 'Liberation Serif', size: 14.5, color: '#000'};
const MS = 6;

function mk(x, y, k, extra) {
  return Object.assign({
    x: x, y: y, type: 'scatter', mode: 'lines+markers', connectgaps: false,
    line: {color: seriesColors[k], width: 1},
    marker: {symbol: seriesSymbols[k], size: MS, color: seriesColors[k], line: {color: seriesColors[k], width: 0.9}},
    hoverinfo: 'skip', showlegend: false, name: seriesNames[k]
  }, extra || {});
}

// legend key placement (fractions of the plot area)
const keyX0 = 0.8615, keyXm = 0.9131, keyX1 = 0.9647, keyTextX = 0.8338;
const keyY = [0.9603, 0.9095];

const traces = [
  mk(symX, symY, 0),
  mk(nSites, fpuY, 1),
  mk([keyXm], [keyY[0]], 0, {xaxis: 'x2', yaxis: 'y2', mode: 'markers'}),
  mk([keyXm], [keyY[1]], 1, {xaxis: 'x2', yaxis: 'y2', mode: 'markers'})
];

const layout = {
  width: 501, height: 373,
  margin: {l: 104, r: 0, t: 16, b: 42},
  paper_bgcolor: '#fff', plot_bgcolor: '#fff',
  showlegend: false,
  font: font,
  xaxis: {
    range: [0, 127], tickmode: 'array', tickvals: xTickVals, ticktext: xTickText,
    ticks: 'inside', ticklen: 5, tickwidth: 1, tickcolor: '#000',
    showline: true, linecolor: '#000', linewidth: 1, mirror: 'allticks',
    showgrid: false, zeroline: false, ticklabelstandoff: 4, tickfont: font,
    title: {text: 'n', font: font, standoff: 6}
  },
  yaxis: {
    type: 'log', range: [-8, 0], tickmode: 'array', tickvals: yTickVals, ticktext: yTickText,
    ticks: 'inside', ticklen: 5, tickwidth: 1, tickcolor: '#000',
    minor: {tickmode: 'array', tickvals: yMinorVals, ticks: 'inside', ticklen: 3, tickcolor: '#000', showgrid: false},
    showline: true, linecolor: '#000', linewidth: 1, mirror: false,
    showgrid: false, zeroline: false, ticklabelstandoff: 8, tickfont: font,
    title: {text: 'e<sub>n</sub>', font: font, standoff: 26}
  },
  xaxis2: {overlaying: 'x', anchor: 'y2', range: [0, 1], visible: false, fixedrange: true},
  yaxis2: {overlaying: 'y', anchor: 'x2', range: [0, 1], visible: false, fixedrange: true},
  shapes: [
    {type: 'line', xref: 'paper', yref: 'paper', x0: keyX0, x1: keyX1, y0: keyY[0], y1: keyY[0], line: {color: seriesColors[0], width: 1}},
    {type: 'line', xref: 'paper', yref: 'paper', x0: keyX0, x1: keyX1, y0: keyY[1], y1: keyY[1], line: {color: seriesColors[1], width: 1}}
  ],
  annotations: [
    {xref: 'paper', yref: 'paper', x: keyTextX, y: keyY[0], xanchor: 'right', yanchor: 'middle', text: seriesNames[0], showarrow: false, font: font},
    {xref: 'paper', yref: 'paper', x: keyTextX, y: keyY[1], xanchor: 'right', yanchor: 'middle', text: seriesNames[1], showarrow: false, font: font}
  ]
};

Plotly.newPlot('chart', traces, layout, {displayModeBar: false, staticPlot: true});
</script>
</body></html>
